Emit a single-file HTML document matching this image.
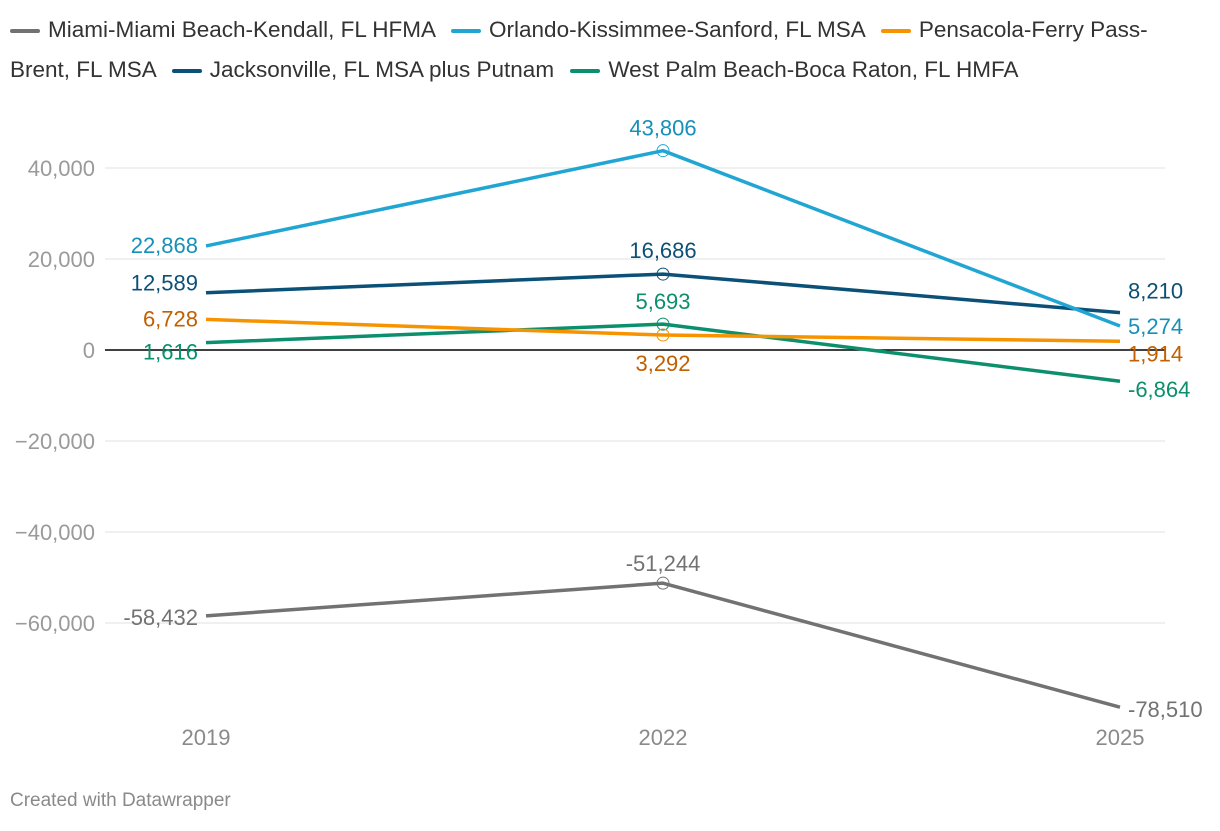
<!DOCTYPE html>
<html><head><meta charset="utf-8"><style>
body{margin:0;background:#fff;width:1220px;height:826px;overflow:hidden;font-family:"Liberation Sans",sans-serif}
svg text{font-family:"Liberation Sans",sans-serif}
</style></head><body>
<svg id="chart" width="1220" height="826" xmlns="http://www.w3.org/2000/svg"></svg>
<script>
const years=["2019","2022","2025"];
const names=["Miami-Miami Beach-Kendall, FL HFMA","Orlando-Kissimmee-Sanford, FL MSA","Pensacola-Ferry Pass-Brent, FL MSA","Jacksonville, FL MSA plus Putnam","West Palm Beach-Boca Raton, FL HMFA"];
const miami=[-58432,-51244,-78510];
const orlando=[22868,43806,5274];
const pensacola=[6728,3292,1914];
const jacksonville=[12589,16686,8210];
const westpalm=[1616,5693,-6864];
const yTicks=[40000,20000,0,-20000,-40000,-60000];
const yTickLabels=["40,000","20,000","0","−20,000","−40,000","−60,000"];
const NS="http://www.w3.org/2000/svg";
const svg=document.getElementById('chart');
function x(i){return 206+i*457;}
function y(v){return 350-v*0.00455;}
function mk(t,a,p){const e=document.createElementNS(NS,t);for(const k in a)e.setAttribute(k,a[k]);(p||svg).appendChild(e);return e;}
function fmt(v){return (v<0?"-":"")+Math.abs(v).toLocaleString("en-US");}
yTicks.forEach((t,i)=>{
 const l=mk('line',{x1:105,x2:1165,y1:y(t),y2:y(t),stroke:t===0?'#000':'#e0e0e0','stroke-width':t===0?1.5:1});
 
 const tx=mk('text',{x:95,y:y(t)+8,'text-anchor':'end','font-size':22,fill:'#9a9a9a'});tx.textContent=yTickLabels[i];
 
});
years.forEach((yr,i)=>{
 const t=mk('text',{x:x(i),y:745,'text-anchor':'middle','font-size':22,fill:'#8a8a8a'});t.textContent=yr;
 
});
const series=[
 {d:miami,c:'#727272',lc:'#727272',pos:[['end',-8,9],['middle',0,-12],['start',8,10]]},
 {d:westpalm,c:'#0b8f6d',lc:'#0b8f6d',pos:[['end',-8,17],['middle',0,-15],['start',8,16]]},
 {d:pensacola,c:'#f89300',lc:'#c06000',pos:[['end',-8,7],['middle',0,36],['start',8,20]]},
 {d:jacksonville,c:'#0b5077',lc:'#0b5077',pos:[['end',-8,-2],['middle',0,-16],['start',8,-14]]},
 {d:orlando,c:'#21a6d4',lc:'#1690b8',pos:[['end',-8,7],['middle',0,-15],['start',8,8]]}
];
series.forEach((s,k)=>{
 const pts=s.d.map((v,i)=>x(i)+','+y(v)).join(' ');
 const pl=mk('polyline',{points:pts,fill:'none',stroke:s.c,'stroke-width':3.5,'stroke-linejoin':'round'});
 
 const c=mk('circle',{cx:x(1),cy:y(s.d[1]),r:6,fill:'none',stroke:s.c,'stroke-width':1});
 
 s.d.forEach((v,i)=>{
  const p=s.pos[i];
  const t=mk('text',{x:x(i)+p[1],y:y(v)+p[2],'text-anchor':p[0],'font-size':22,fill:s.lc});
  t.textContent=fmt(v);
  
 });
});
</script>
<div style="position:absolute;left:10px;top:10px;width:1205px;font-size:22.5px;color:#333;line-height:40px">
<span><span style="display:inline-block;width:30px;height:4px;background:#727272;vertical-align:middle;margin-right:8px;border-radius:2px"></span>Miami-Miami Beach-Kendall, FL HFMA</span>
<span style="margin-left:10px"><span style="display:inline-block;width:30px;height:4px;background:#21a6d4;vertical-align:middle;margin-right:8px;border-radius:2px"></span>Orlando-Kissimmee-Sanford, FL MSA</span>
<span style="margin-left:10px"><span style="display:inline-block;width:30px;height:4px;background:#f89300;vertical-align:middle;margin-right:8px;border-radius:2px"></span>Pensacola-Ferry Pass-<br>Brent, FL MSA</span>
<span style="margin-left:10px"><span style="display:inline-block;width:30px;height:4px;background:#0b5077;vertical-align:middle;margin-right:8px;border-radius:2px"></span>Jacksonville, FL MSA plus Putnam</span>
<span style="margin-left:10px"><span style="display:inline-block;width:30px;height:4px;background:#0b8f6d;vertical-align:middle;margin-right:8px;border-radius:2px"></span>West Palm Beach-Boca Raton, FL HMFA</span>
</div>
<div style="position:absolute;left:10px;top:790px;font-size:19px;color:#8a8a8a">Created with Datawrapper</div>
</body></html>
